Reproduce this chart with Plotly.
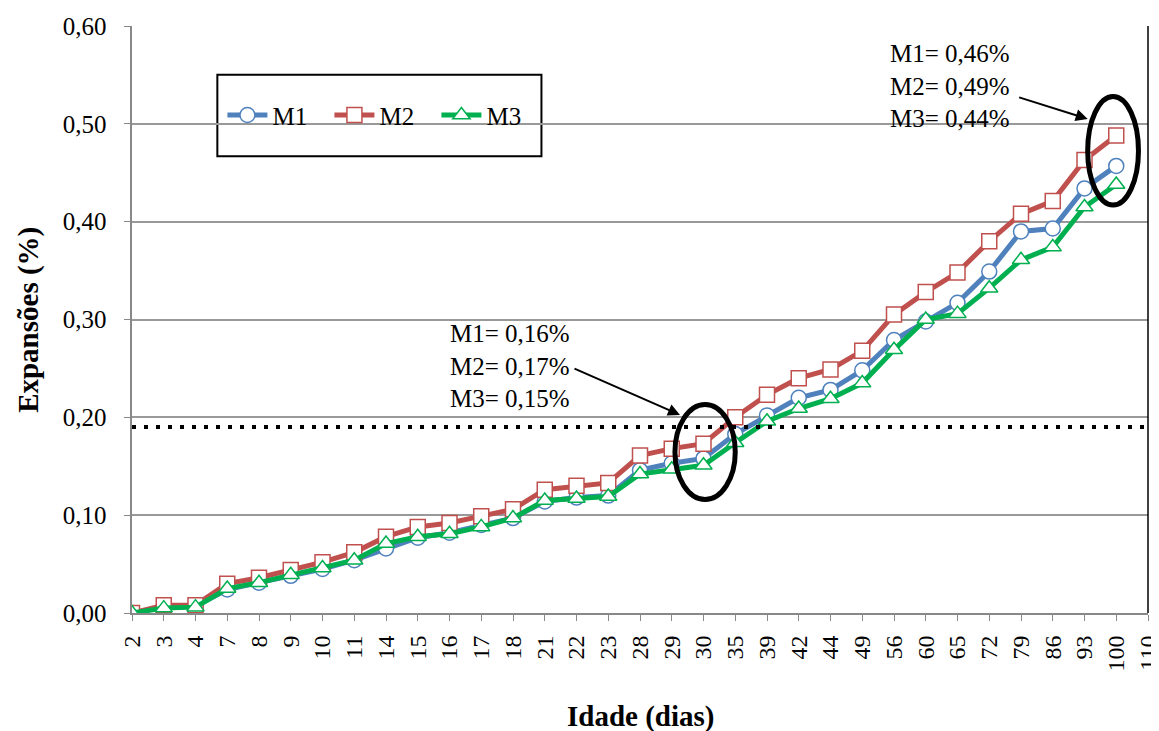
import plotly.graph_objects as go

# Data
idade = ['2', '3', '4', '7', '8', '9', '10', '11', '14', '15', '16', '17', '18', '21', '22', '23',
         '28', '29', '30', '35', '39', '42', '44', '49', '56', '60', '65', '72', '79', '86', '93',
         '100', '110']

m1 = [0.000, 0.006, 0.007, 0.024, 0.031, 0.038, 0.045, 0.054, 0.066, 0.077, 0.082, 0.090, 0.097,
      0.114, 0.118, 0.120, 0.146, 0.153, 0.158, 0.183, 0.202, 0.220, 0.228, 0.248, 0.279, 0.298,
      0.317, 0.349, 0.390, 0.393, 0.434, 0.457]
m2 = [0.000, 0.008, 0.008, 0.030, 0.036, 0.044, 0.052, 0.062, 0.078, 0.088, 0.092, 0.099, 0.106,
      0.126, 0.130, 0.133, 0.161, 0.168, 0.173, 0.200, 0.223, 0.240, 0.249, 0.268, 0.305, 0.328,
      0.348, 0.380, 0.408, 0.421, 0.463, 0.488]
m3 = [0.000, 0.005, 0.006, 0.025, 0.031, 0.039, 0.046, 0.054, 0.071, 0.078, 0.081, 0.088, 0.097,
      0.115, 0.117, 0.119, 0.142, 0.147, 0.151, 0.174, 0.196, 0.209, 0.219, 0.235, 0.269, 0.300,
      0.306, 0.332, 0.361, 0.374, 0.415, 0.438]

limite = 0.19

FONT = 'Liberation Serif, Times New Roman, serif'
# invisible padding between tick labels and axis
PAD_Y = '<span style="color:rgba(0,0,0,0)">0</span>'
PAD_X = '<span style="color:rgba(0,0,0,0);font-size:10px">0</span>'

series = [('M1', m1, '#4F81BD', 'circle'),
          ('M2', m2, '#C0504D', 'square'),
          ('M3', m3, '#00B050', 'triangle-up')]

fig = go.Figure()
for name, vals, color, symbol in series:
    fig.add_trace(go.Scatter(
        x=idade[:len(vals)], y=vals, name=name, mode='lines+markers',
        line=dict(color=color, width=5),
        marker=dict(symbol=symbol, size=15, color='white', line=dict(color=color, width=1.5))
    ))

# dotted limit line
fig.add_shape(type='line', xref='paper', x0=0, x1=1, yref='y', y0=limite, y1=limite,
              line=dict(color='black', width=4, dash='4px,8px'))

# ellipses
fig.add_shape(type='circle', xref='x', yref='y', x0=17.1, x1=19.0, y0=0.116, y1=0.213,
              line=dict(color='black', width=5))
fig.add_shape(type='circle', xref='x', yref='y', x0=30.1, x1=31.7, y0=0.417, y1=0.528,
              line=dict(color='black', width=5))

# legend box
fig.add_shape(type='rect', xref='paper', yref='paper', x0=0.084, x1=0.403, y0=0.778, y1=0.917,
              line=dict(color='black', width=2), fillcolor='white', layer='below')

# annotations
fig.add_annotation(x=17.26, y=0.2025, xref='x', yref='y', text='', showarrow=True,
                   ax=-107, ay=-47, arrowhead=2, arrowsize=1.2, arrowwidth=2, arrowcolor='black')
fig.add_annotation(x=9.95, y=0.2526, xref='x', yref='y', xanchor='left', align='left',
                   text='M1= 0,16%<br>M2= 0,17%<br>M3= 0,15%', showarrow=False,
                   font=dict(family=FONT, size=25, color='black'))
fig.add_annotation(x=30.1, y=0.505, xref='x', yref='y', text='', showarrow=True,
                   ax=-70, ay=-22, arrowhead=2, arrowsize=1.2, arrowwidth=2, arrowcolor='black')
fig.add_annotation(x=23.8, y=0.539, xref='x', yref='y', xanchor='left', align='left',
                   text='M1= 0,46%<br>M2= 0,49%<br>M3= 0,44%', showarrow=False,
                   font=dict(family=FONT, size=25, color='black'))

# axis titles
fig.add_annotation(x=0.5, y=-0.177, xref='paper', yref='paper', text='<b>Idade (dias)</b>',
                   showarrow=False, yanchor='middle', font=dict(family=FONT, size=29))
fig.add_annotation(x=-0.102, y=0.5, xref='paper', yref='paper', text='<b>Expansões (%)</b>',
                   showarrow=False, textangle=-90, xanchor='center', font=dict(family=FONT, size=29))

fig.update_layout(
    width=1151, height=723,
    margin=dict(l=124, r=11, t=18, b=118),
    paper_bgcolor='white', plot_bgcolor='white',
    separators=',.',
    font=dict(family=FONT, size=25, color='black'),
    showlegend=True,
    legend=dict(orientation='h', x=0.089, y=0.848, xanchor='left', yanchor='middle',
                bgcolor='rgba(0,0,0,0)', font=dict(family=FONT, size=25),
                itemwidth=40, tracegroupgap=0, entrywidth=52, entrywidthmode='pixels'),
    xaxis=dict(
        type='category', categoryorder='array', categoryarray=idade,
        range=[0, 32], tickangle=-90, automargin=False,
        tickfont=dict(family=FONT, size=24), ticksuffix=PAD_X,
        showgrid=False, showline=True, linecolor='#888888', linewidth=2,
        ticks='outside', tickcolor='#888888', ticklen=6,
    ),
    yaxis=dict(
        range=[0, 0.6], dtick=0.1, tickformat='.2f', automargin=False,
        tickfont=dict(family=FONT, size=25), ticksuffix=PAD_Y,
        showgrid=True, gridcolor='#999999', gridwidth=1.5,
        showline=True, linecolor='#888888', linewidth=2,
        ticks='outside', tickcolor='#888888', ticklen=6,
        zeroline=False,
    ),
)

# right border of plot area
fig.add_shape(type='line', xref='paper', yref='paper', x0=1, x1=1, y0=0, y1=1,
              line=dict(color='black', width=1.5))

fig.write_html("out.html")
